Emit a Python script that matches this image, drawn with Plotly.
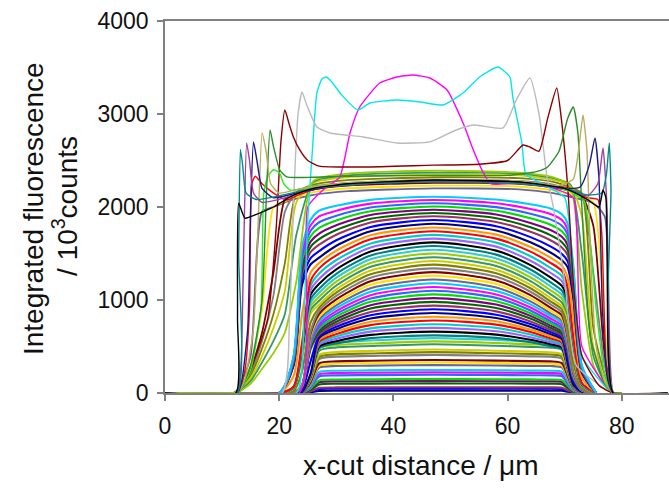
import plotly.graph_objects as go

# ---------------- data ----------------
# shared x grid for the early (flat) and middle (domed) profiles
XG = [0, 20, 22.5, 24, 25.5, 27, 30, 36, 47, 58, 64, 67.5, 69.5, 70.5, 71.5, 73, 75.5]

LOW = [
    [0, 0, 0, 0, 8, 22, 25, 25, 26, 25, 25, 25, 24, 14, 5, 1, 0],
    [0, 0, 0, 1, 15, 42, 45, 45, 46, 45, 45, 45, 43, 25, 7, 1, 0],
    [0, 0, 0, 2, 20, 55, 60, 60, 62, 61, 60, 60, 57, 32, 10, 2, 0],
    [0, 0, 0, 3, 35, 92, 100, 101, 103, 102, 101, 100, 95, 55, 16, 3, 0],
    [0, 0, 0, 4, 42, 115, 125, 126, 129, 127, 126, 125, 119, 68, 20, 4, 0],
    [0, 0, 0, 4, 50, 135, 145, 147, 150, 148, 146, 145, 138, 80, 24, 4, 0],
    [0, 0, 0, 5, 65, 178, 190, 192, 196, 193, 191, 190, 180, 105, 30, 5, 0],
    [0, 0, 0, 6, 72, 200, 215, 218, 222, 219, 216, 214, 204, 118, 34, 6, 0],
    [0, 0, 0, 6, 80, 225, 240, 243, 248, 244, 241, 239, 228, 130, 38, 6, 0],
    [0, 0, 0, 8, 100, 272, 290, 294, 300, 296, 292, 290, 275, 160, 46, 8, 0],
    [0, 0, 0, 8, 108, 295, 315, 320, 328, 322, 318, 315, 298, 172, 50, 8, 0],
    [0, 0, 0, 9, 115, 318, 340, 346, 355, 348, 343, 340, 322, 185, 54, 9, 0],
    [0, 0, 0, 10, 135, 365, 390, 398, 410, 400, 394, 390, 370, 212, 62, 10, 0],
    [0, 0, 0, 11, 142, 388, 415, 425, 439, 428, 420, 414, 394, 226, 66, 11, 0],
    [0, 0, 0, 12, 150, 410, 440, 452, 468, 455, 445, 438, 418, 240, 70, 12, 0],
    [0, 0, 0, 13, 170, 455, 490, 505, 525, 508, 496, 488, 465, 268, 78, 13, 0],
    [0, 0, 0, 14, 180, 480, 515, 532, 555, 537, 523, 515, 492, 284, 82, 14, 0],
    [0, 0, 0, 15, 190, 560, 545, 565, 590, 570, 553, 545, 520, 300, 86, 15, 0],
]

MID = [
    [0, 0, 0, 10, 169, 484, 532, 590, 620, 593, 545, 504, 474, 266, 73, 10, 0],
    [0, 0, 0, 10, 175, 500, 556, 625, 660, 628, 572, 524, 490, 275, 75, 10, 0],
    [0, 0, 0, 10, 181, 518, 582, 660, 700, 664, 600, 545, 508, 285, 78, 10, 0],
    [0, 0, 0, 11, 188, 536, 608, 695, 740, 700, 628, 566, 525, 295, 80, 11, 0],
    [0, 0, 0, 11, 194, 554, 633, 730, 780, 735, 656, 588, 543, 305, 83, 11, 0],
    [0, 0, 0, 12, 201, 573, 660, 766, 820, 771, 684, 610, 562, 315, 86, 12, 0],
    [0, 0, 0, 12, 208, 593, 686, 801, 860, 807, 713, 633, 581, 326, 89, 12, 0],
    [0, 0, 0, 38, 340, 611, 712, 836, 900, 842, 741, 655, 599, 384, 124, 18, 0],
    [0, 0, 0, 63, 473, 630, 739, 872, 940, 878, 770, 677, 617, 441, 158, 25, 0],
    [0, 0, 0, 65, 489, 651, 766, 908, 980, 914, 800, 701, 638, 456, 163, 26, 0],
    [0, 0, 0, 67, 505, 673, 794, 944, 1020, 951, 829, 725, 660, 471, 168, 27, 0],
    [0, 0, 0, 70, 520, 694, 822, 980, 1060, 987, 858, 749, 680, 486, 174, 28, 0],
    [0, 0, 0, 72, 536, 715, 850, 1015, 1100, 1023, 888, 773, 701, 500, 179, 29, 0],
    [0, 0, 0, 75, 556, 741, 881, 1052, 1140, 1060, 920, 801, 726, 519, 186, 30, 0],
    [0, 0, 0, 77, 575, 767, 912, 1089, 1180, 1097, 953, 829, 752, 537, 192, 31, 0],
    [0, 0, 0, 80, 595, 793, 942, 1126, 1220, 1135, 985, 857, 778, 555, 198, 32, 0],
    [0, 0, 0, 82, 614, 819, 973, 1163, 1260, 1172, 1017, 885, 803, 573, 205, 33, 0],
    [0, 0, 0, 85, 638, 851, 1008, 1201, 1300, 1210, 1053, 918, 834, 596, 213, 34, 0],
    [0, 0, 0, 88, 663, 884, 1044, 1240, 1340, 1249, 1089, 952, 866, 619, 221, 35, 0],
    [0, 0, 20, 230, 760, 918, 1080, 1278, 1380, 1288, 1126, 986, 899, 714, 325, 55, 0],
    [0, 0, 48, 380, 856, 951, 1115, 1317, 1420, 1326, 1162, 1021, 932, 808, 428, 76, 0],
    [0, 0, 50, 397, 894, 993, 1156, 1358, 1460, 1366, 1203, 1063, 973, 844, 447, 80, 0],
    [0, 0, 52, 414, 932, 1035, 1198, 1398, 1500, 1407, 1244, 1105, 1014, 880, 466, 83, 0],
    [0, 0, 54, 431, 971, 1078, 1240, 1438, 1540, 1447, 1286, 1148, 1057, 917, 485, 86, 0],
    [0, 0, 56, 449, 1010, 1122, 1282, 1479, 1580, 1488, 1328, 1191, 1100, 954, 505, 90, 0],
    [0, 0, 58, 470, 1057, 1175, 1330, 1522, 1620, 1531, 1375, 1242, 1151, 999, 529, 94, 0],
    [0, 0, 61, 491, 1105, 1228, 1379, 1565, 1660, 1574, 1422, 1293, 1203, 1044, 553, 98, 0],
    [0, 0, 64, 513, 1155, 1284, 1430, 1608, 1700, 1617, 1471, 1346, 1258, 1091, 578, 102, 0],
    [0, 0, 67, 536, 1206, 1340, 1480, 1652, 1740, 1660, 1520, 1400, 1313, 1139, 603, 107, 0],
    [0, 0, 180, 850, 1295, 1398, 1531, 1696, 1780, 1703, 1570, 1455, 1370, 1246, 811, 162, 0],
    [0, 0, 291, 1165, 1383, 1456, 1583, 1740, 1820, 1747, 1620, 1511, 1427, 1354, 1019, 218, 0],
    [0, 0, 305, 1221, 1450, 1526, 1642, 1786, 1860, 1793, 1676, 1576, 1495, 1419, 1068, 228, 0],
    [0, 0, 319, 1277, 1516, 1596, 1702, 1833, 1900, 1839, 1733, 1642, 1564, 1484, 1117, 239, 0],
    [0, 0, 331, 1324, 1572, 1655, 1753, 1873, 1935, 1879, 1781, 1697, 1622, 1539, 1158, 248, 0],
    [0, 0, 343, 1371, 1628, 1714, 1804, 1914, 1970, 1919, 1829, 1752, 1680, 1594, 1200, 257, 0],
    [0, 0, 355, 1420, 1686, 1775, 1855, 1954, 2005, 1959, 1878, 1809, 1739, 1650, 1242, 266, 0],
    [0, 0, 367, 1469, 1744, 1836, 1907, 1995, 2040, 1999, 1928, 1867, 1799, 1707, 1285, 275, 0],
    [0, 0, 380, 1520, 1804, 1899, 1960, 2036, 2075, 2040, 1978, 1925, 1861, 1766, 1329, 284, 0],
    [0, 0, 392, 1570, 1864, 1962, 2014, 2077, 2110, 2080, 2029, 1984, 1923, 1825, 1373, 294, 0],
]

# late, wide plateau profiles (fanned edges)
XP = [0, 12, 13, 15, 17, 19, 21, 23, 26, 32, 47, 62, 68, 71, 73, 75, 77, 78.5, 80]
PLAT = [
    [0, 0, 60, 400, 1950, 2000, 2050, 2090, 2130, 2170, 2200, 2190, 2150, 2110, 2080, 2040, 1900, 5, 0],
    [0, 0, 50, 300, 900, 2000, 2060, 2110, 2160, 2200, 2230, 2220, 2180, 2140, 2100, 2050, 700, 4, 0],
    [0, 0, 40, 250, 650, 1300, 2080, 2140, 2190, 2230, 2260, 2250, 2210, 2170, 2120, 1800, 400, 3, 0],
    [0, 0, 35, 220, 560, 1050, 1950, 2160, 2220, 2260, 2290, 2280, 2240, 2190, 2140, 1300, 300, 3, 0],
    [0, 0, 30, 190, 480, 850, 1400, 2150, 2240, 2290, 2320, 2310, 2270, 2210, 2150, 700, 200, 2, 0],
    [0, 0, 25, 160, 400, 700, 1100, 2050, 2260, 2320, 2350, 2340, 2290, 2230, 1900, 500, 150, 2, 0],
    [0, 0, 20, 130, 330, 560, 850, 1700, 2270, 2340, 2370, 2360, 2310, 2240, 1500, 400, 110, 1, 0],
    [0, 0, 15, 100, 260, 430, 650, 1200, 2280, 2360, 2390, 2370, 2320, 2220, 1100, 300, 80, 1, 0],
]

# latest profiles with edge peaks
BK_X = [0, 12.4, 12.7, 12.9, 14, 16, 19, 21, 23, 26, 32, 47, 62, 70, 74, 76, 76.7, 77.2, 77.6, 78.5, 88]
BK_Y = [0, 0, 800, 2040, 1880, 1920, 2000, 2075, 2140, 2200, 2250, 2290, 2270, 2200, 2080, 2000, 2183, 2100, 500, 0, 0]

TL_X = [0, 12.6, 12.9, 13.2, 13.6, 14.2, 16, 20, 26, 35, 47, 60, 70, 74, 76.5, 77.3, 77.8, 78.1, 78.5, 88]
TL_Y = [0, 0, 1500, 2620, 2450, 2150, 2080, 2120, 2200, 2250, 2270, 2260, 2200, 2130, 2150, 2350, 2690, 2200, 0, 0]

PU_X = [0, 12.6, 13.3, 13.8, 14.3, 14.8, 15.5, 17, 21, 26, 35, 47, 60, 70, 74, 75.8, 76.7, 77.4, 77.8, 78.5, 88]
PU_Y = [0, 0, 300, 1600, 2690, 2500, 2150, 2050, 2100, 2200, 2250, 2270, 2260, 2200, 2120, 2250, 2634, 2000, 400, 0, 0]

BL_X = [0, 12.7, 13.5, 14.5, 15, 15.5, 16.1, 17, 19, 23, 30, 47, 62, 70, 72.7, 74.3, 75.3, 76, 76.6, 77.5, 78.5, 88]
BL_Y = [0, 0, 150, 700, 2000, 2700, 2500, 2200, 2100, 2150, 2230, 2280, 2270, 2200, 2215, 2450, 2742, 2300, 900, 150, 0, 0]

TN_X = [0, 12.7, 14, 15.5, 16.3, 17, 17.7, 18.5, 20, 24, 32, 47, 62, 69, 71.5, 72.5, 73.2, 73.9, 74.5, 75.5, 77, 78.5, 88]
TN_Y = [0, 0, 150, 700, 1800, 2795, 2600, 2250, 2150, 2200, 2260, 2300, 2280, 2230, 2300, 2650, 2990, 2600, 1500, 500, 120, 0, 0]

GR_X = [0, 12.7, 15, 17, 17.8, 18.4, 19, 20.1, 21.3, 26, 32, 47, 60, 65, 67, 69, 70.5, 71.5, 72.3, 73, 74.5, 77, 78.5, 88]
GR_Y = [0, 0, 300, 1000, 2200, 2828, 2650, 2398, 2323, 2320, 2330, 2340, 2340, 2380, 2430, 2600, 2950, 3075, 2800, 2000, 600, 100, 0, 0]

LM_X = [0, 12.7, 15, 16.8, 17.3, 18, 19, 20, 20.8, 22, 26, 35, 47, 60, 68, 71.5, 73.5, 75.5, 77, 78.5, 88]
LM_Y = [0, 0, 250, 900, 2150, 2330, 2400, 2370, 2250, 2180, 2220, 2260, 2290, 2280, 2220, 2150, 2050, 900, 200, 0, 0]

RD_X = [0, 12.7, 14, 14.8, 15.2, 15.8, 17, 19, 21.3, 23, 27, 35, 47, 60, 70, 74, 75.8, 76.5, 77.3, 78.5, 88]
RD_Y = [0, 0, 250, 900, 2250, 2330, 2250, 2150, 2075, 2120, 2200, 2250, 2280, 2270, 2210, 2100, 2080, 1700, 300, 0, 0]

MR_X = [0, 12.7, 15, 18, 19.5, 20.3, 21, 21.7, 22.5, 23.6, 25, 27, 35, 47, 55, 60, 62.7, 63.9, 65.5, 67, 68.6, 69.5, 70.6, 71.5, 73, 76, 78.5, 88]
MR_Y = [0, 0, 250, 800, 1800, 2700, 3043, 2900, 2750, 2613, 2500, 2440, 2430, 2450, 2460, 2500, 2667, 2645, 2600, 2950, 3280, 2900, 2150, 1200, 400, 80, 0, 0]

GY_X = [0, 20.5, 21.8, 22.6, 23.3, 24, 24.8, 26.6, 28.9, 34.7, 40.6, 46.4, 51, 54, 59.2, 61.5, 63.9, 65.5, 66.9, 68, 70, 72, 78.5, 88]
GY_Y = [0, 0, 800, 2200, 3000, 3236, 3100, 2860, 2796, 2753, 2688, 2700, 2828, 2882, 2850, 3150, 3387, 3000, 2322, 2000, 1200, 300, 0, 0]

CY_X = [0, 23, 24.3, 25, 25.8, 26.6, 27.5, 28.2, 29, 31, 33.8, 35.9, 40.6, 44.7, 48.7, 52.2, 55.1, 58.3, 60.4, 60.9, 62.5, 63.2, 66, 70, 73, 78.5, 88]
CY_Y = [0, 0, 800, 1860, 2600, 3226, 3380, 3398, 3360, 3200, 3043, 3118, 3150, 3129, 3097, 3226, 3398, 3505, 3398, 3183, 2690, 2350, 2250, 2100, 400, 0, 0]

MG_X = [0, 23.5, 25, 28, 30.6, 32.4, 34.1, 37.6, 40.6, 43.4, 46.4, 49.4, 52.2, 54, 55.5, 57, 62, 68, 71.5, 73, 78.5, 88]
MG_Y = [0, 0, 2000, 2200, 2322, 2796, 3075, 3333, 3398, 3419, 3387, 3258, 2903, 2613, 2398, 2250, 2260, 2200, 2100, 500, 0, 0]

X_TICKS = [0, 20, 40, 60, 80]
Y_TICKS = [0, 1000, 2000, 3000, 4000]

# ---------------- styling ----------------
PAL = ["#000080", "#FF00FF", "#CCCC00", "#00CCCC", "#800080", "#800000",
       "#008080", "#0000FF", "#00CCFF", "#339966", "#FF0000", "#00DD00",
       "#808080", "#000000", "#993366", "#666699", "#99CC00", "#FF9900",
       "#3366FF", "#808000", "#9966FF", "#006600", "#FFE000", "#33CCCC"]

fig = go.Figure()
k = 0
for ys in LOW + MID:
    fig.add_trace(go.Scatter(x=XG, y=ys, mode="lines",
                             line=dict(color=PAL[(k * 7) % len(PAL)], width=2.1,
                                       shape="spline", smoothing=0.7)))
    k += 1
for ys in PLAT:
    fig.add_trace(go.Scatter(x=XP, y=ys, mode="lines",
                             line=dict(color=PAL[(k * 7) % len(PAL)], width=1.8,
                                       shape="spline", smoothing=0.6)))
    k += 1

special = [
    (MG_X, MG_Y, "#FF00FF"), (CY_X, CY_Y, "#00E8E8"), (GY_X, GY_Y, "#BBBBBB"),
    (MR_X, MR_Y, "#8B0000"), (RD_X, RD_Y, "#FF0000"), (LM_X, LM_Y, "#22EE22"),
    (GR_X, GR_Y, "#2E8B2E"), (TN_X, TN_Y, "#B8AD5A"), (BL_X, BL_Y, "#1A1A8C"),
    (PU_X, PU_Y, "#A040A0"), (TL_X, TL_Y, "#008B8B"), (BK_X, BK_Y, "#000000"),
]
for xs, ys, c in special:
    fig.add_trace(go.Scatter(x=xs, y=ys, mode="lines",
                             line=dict(color=c, width=1.4, shape="spline", smoothing=0.5)))

FONT = "Arial, Liberation Sans, sans-serif"
fig.update_layout(
    width=669, height=489,
    margin=dict(l=165, r=0, t=21, b=96),
    paper_bgcolor="white", plot_bgcolor="white",
    showlegend=False,
    font=dict(family=FONT, color="#111111"),
    xaxis=dict(range=[0, 88.26], tickvals=X_TICKS, ticks="outside", ticklen=6,
               tickcolor="#808080", tickwidth=1.5, showline=True, linecolor="#808080",
               linewidth=1.5, mirror=True, showgrid=False, zeroline=False,
               tickfont=dict(size=23, family=FONT, color="#111111"),
               ticklabelstandoff=6, automargin=False),
    yaxis=dict(range=[0, 4000], tickvals=Y_TICKS, ticks="outside", ticklen=6,
               tickcolor="#808080", tickwidth=1.5, showline=True, linecolor="#808080",
               linewidth=1.5, showgrid=False, zeroline=False,
               tickfont=dict(size=23, family=FONT, color="#111111"),
               ticklabelstandoff=4, automargin=False),
)
fig.add_annotation(text="x-cut distance / \u03bcm", xref="paper", yref="paper",
                   x=0.508, y=-0.196, xanchor="center", yanchor="middle",
                   showarrow=False, font=dict(size=28, family=FONT, color="#111111"))
fig.add_annotation(text="Integrated fluorescence",
                   xref="paper", yref="paper", x=-0.2619, y=0.4946,
                   xanchor="center", yanchor="middle", textangle=-90,
                   showarrow=False, font=dict(size=28, family=FONT, color="#111111"))
fig.add_annotation(text="/ 10<sup>3</sup>counts",
                   xref="paper", yref="paper", x=-0.1984, y=0.5027,
                   xanchor="center", yanchor="middle", textangle=-90,
                   showarrow=False, font=dict(size=28, family=FONT, color="#111111"))

fig.write_html("out.html", config={"displayModeBar": False},
               post_script="document.body.style.margin='0px';")
